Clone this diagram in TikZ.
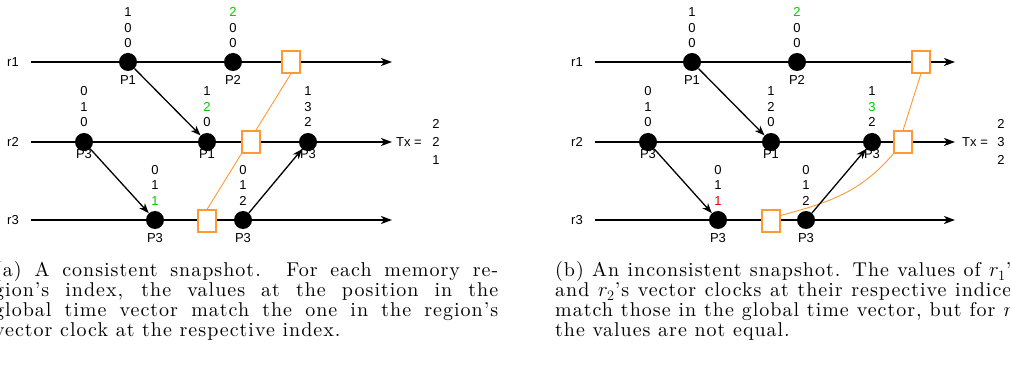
\documentclass[tikz,border=0pt]{standalone}
\usepackage{fontspec}
\newfontfamily\diag{Liberation Sans}
\newfontfamily\capfont{lmroman10-regular.otf}[LetterSpace=5,Ligatures=TeX]
\usetikzlibrary{arrows.meta,backgrounds}
\definecolor{orng}{HTML}{FF9933}
\definecolor{grn}{HTML}{00CC00}
\definecolor{rd}{HTML}{E00000}
\tikzset{
  dot/.style={circle,fill=black,minimum size=18pt,inner sep=0pt},
  snap/.style={draw=orng,fill=white,line width=1.1pt,minimum width=18pt,minimum height=22pt,inner sep=0pt},
  tl/.style={line width=1.7pt,-{Stealth[length=11pt,width=8pt,inset=3pt]}},
  msg/.style={line width=1.3pt,-{Stealth[length=10pt,width=7.5pt,inset=3pt]}},
  cutline/.style={draw=orng,line width=0.9pt},
  lbl/.style={font=\diag\fontsize{13}{14}\selectfont,inner sep=0pt},
  vc/.style={font=\diag\fontsize{13}{15.5}\selectfont,align=center,inner sep=0pt},
  vt/.style={font=\diag\fontsize{13}{18}\selectfont,align=center,inner sep=0pt},
  captext/.style={font=\capfont\fontsize{20}{20}\selectfont,inner sep=0pt,anchor=base west},
}
\begin{document}
\begin{tikzpicture}[x=1pt,y=-1pt]
\useasboundingbox (0,0) rectangle (1010,379);
% ---------------- panel (a)
\node[lbl] (ar1) at (13,62) {r1};
\node[lbl] (ar2) at (13,142) {r2};
\node[lbl] (ar3) at (13,220) {r3};
\coordinate (ar1s) at (31,62);  \coordinate (ar1e) at (392,62);
\coordinate (ar2s) at (31,142); \coordinate (ar2e) at (392,142);
\coordinate (ar3s) at (31,220); \coordinate (ar3e) at (392,220);
% r1
\node[dot] (aA) at (128,62) {};
\node[lbl] (aAl) at (128,80) {P1};
\node[vc] (aAv) at (128,28) {1\\0\\0};
\node[dot] (aB) at (233,62) {};
\node[lbl] (aBl) at (233,80) {P2};
\node[vc] (aBv) at (233,28) {\textcolor{grn}{2}\\0\\0};
\node[snap] (aS1) at (291,62) {};
% r2
\node[dot] (aC) at (84,142) {};
\node[lbl] (aCl) at (84,154) {P3};
\node[vc] (aCv) at (84,107) {0\\1\\0};
\node[dot] (aD) at (207,142) {};
\node[lbl] (aDl) at (207,154) {P1};
\node[vc] (aDv) at (207,107) {1\\\textcolor{grn}{2}\\0};
\node[snap] (aS2) at (251,142) {};
\node[dot] (aE) at (308,142) {};
\node[lbl] (aEl) at (308,154) {P3};
\node[vc] (aEv) at (308,107) {1\\3\\2};
% r3
\node[dot] (aF) at (155,220) {};
\node[lbl] (aFl) at (155,238) {P3};
\node[vc] (aFv) at (155,185) {0\\1\\\textcolor{grn}{1}};
\node[snap] (aS3) at (207,221) {};
\node[dot] (aG) at (243,220) {};
\node[lbl] (aGl) at (243,238) {P3};
\node[vc] (aGv) at (243,185) {0\\1\\2};
% Tx
\node[lbl,anchor=west] (aTx) at (396,142) {Tx =};
\node[vt] (aTv) at (436,142) {2\\2\\1};
\begin{scope}[on background layer]
  \draw[tl] (ar1s) -- (ar1e);
  \draw[tl] (ar2s) -- (ar2e);
  \draw[tl] (ar3s) -- (ar3e);
  \draw[cutline] (aS3.north) -- (aS1.south);
\end{scope}
\draw[msg] (aA) -- (aD);
\draw[msg] (aC) -- (aF);
\draw[msg] (aG) -- (aE);
% ---------------- panel (b)
\node[lbl] (br1) at (577,62) {r1};
\node[lbl] (br2) at (577,142) {r2};
\node[lbl] (br3) at (577,220) {r3};
\coordinate (br1s) at (595,62);  \coordinate (br1e) at (955,62);
\coordinate (br2s) at (595,142); \coordinate (br2e) at (955,142);
\coordinate (br3s) at (595,220); \coordinate (br3e) at (955,220);
% r1
\node[dot] (bA) at (692,62) {};
\node[lbl] (bAl) at (692,80) {P1};
\node[vc] (bAv) at (692,28) {1\\0\\0};
\node[dot] (bB) at (797,62) {};
\node[lbl] (bBl) at (797,80) {P2};
\node[vc] (bBv) at (797,28) {\textcolor{grn}{2}\\0\\0};
\node[snap] (bS1) at (921,62) {};
% r2
\node[dot] (bC) at (648,142) {};
\node[lbl] (bCl) at (648,154) {P3};
\node[vc] (bCv) at (648,107) {0\\1\\0};
\node[dot] (bD) at (771,142) {};
\node[lbl] (bDl) at (771,154) {P1};
\node[vc] (bDv) at (771,107) {1\\2\\0};
\node[dot] (bE) at (872,142) {};
\node[lbl] (bEl) at (872,154) {P3};
\node[vc] (bEv) at (872,107) {1\\\textcolor{grn}{3}\\2};
\node[snap] (bS2) at (903,142) {};
% r3
\node[dot] (bF) at (718,220) {};
\node[lbl] (bFl) at (718,238) {P3};
\node[vc] (bFv) at (718,185) {0\\1\\\textcolor{rd}{1}};
\node[snap] (bS3) at (771,221) {};
\node[dot] (bG) at (806,220) {};
\node[lbl] (bGl) at (806,238) {P3};
\node[vc] (bGv) at (806,185) {0\\1\\2};
% Tx
\node[lbl,anchor=west] (bTx) at (962,142) {Tx =};
\node[vt] (bTv) at (1001,142) {2\\3\\2};
\begin{scope}[on background layer]
  \draw[tl] (br1s) -- (br1e);
  \draw[tl] (br2s) -- (br2e);
  \draw[tl] (br3s) -- (br3e);
  \draw[cutline] (bS2.north) -- (bS1.south);
  \draw[cutline] (bS3.30) to[out=15,in=-130] (bS2.south west);
\end{scope}
\draw[msg] (bA) -- (bD);
\draw[msg] (bC) -- (bF);
\draw[msg] (bG) -- (bE);
% ---------------- captions
\node[captext] (ca1) at (-6,277) {\makebox[504pt][s]{(a) A consistent snapshot. For each memory re-}};
\node[captext] (ca2) at (-6,297) {\makebox[504pt][s]{gion's index, the values at the position in the}};
\node[captext] (ca3) at (-6,317) {\makebox[504pt][s]{global time vector match the one in the region's}};
\node[captext] (ca4) at (-6,337) {vector clock at the respective index.};
\node[captext] (cb1) at (555,277) {\makebox[465pt][s]{(b) An inconsistent snapshot. The values of $r_1$'s}};
\node[captext] (cb2) at (555,297) {\makebox[465pt][s]{and $r_2$'s vector clocks at their respective indices}};
\node[captext] (cb3) at (555,317) {\makebox[465pt][s]{match those in the global time vector, but for $r_3$}};
\node[captext] (cb4) at (555,337) {the values are not equal.};
\end{tikzpicture}
\end{document}
